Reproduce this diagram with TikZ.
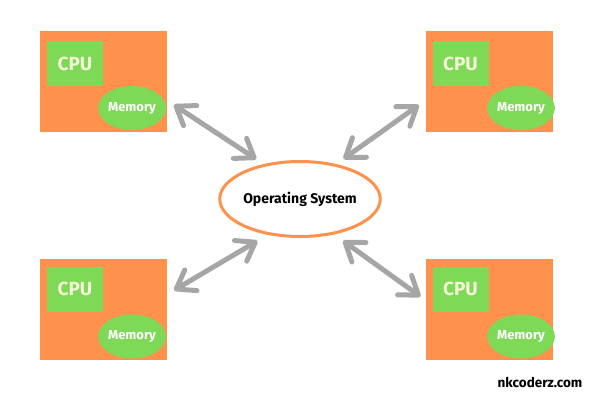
\documentclass[tikz,border=0pt]{standalone}
\usepackage{fontspec}
\setmainfont{Fira Sans}
\usetikzlibrary{arrows.meta,shapes.geometric}
\definecolor{boxorange}{RGB}{255,145,77}
\definecolor{chipgreen}{RGB}{126,217,87}
\definecolor{arrowgray}{RGB}{166,166,166}
\definecolor{cputext}{RGB}{245,245,215}
\tikzset{
    BX/.style ={rectangle, fill=boxorange, minimum width=127pt, minimum height=101pt, inner sep=0pt},
    CP/.style ={rectangle, fill=chipgreen, minimum width=56pt, minimum height=45pt, inner sep=0pt, text=cputext, font=\bfseries\fontsize{19}{19}\selectfont},
    ME/.style ={ellipse, fill=chipgreen, minimum width=66pt, minimum height=44pt, inner sep=0pt, text=white, font=\bfseries\fontsize{13}{13}\selectfont},
    OS/.style ={ellipse, draw=boxorange, line width=3pt, minimum width=159pt, minimum height=75pt, inner sep=0pt, font=\bfseries\fontsize{14}{14}\selectfont},
    AR/.style ={draw=arrowgray, line width=5pt, {Straight Barb[length=17pt,width=24pt,round]}-{Straight Barb[length=17pt,width=24pt,round]}}}
\begin{document}
\begin{tikzpicture}[x=1pt,y=-1pt]
        \useasboundingbox (0,0) rectangle (600,400);
        % computers
        \node[BX] (b1) at (103.5,81) {};
        \node[CP] (c1) at (75,63.5) {CPU};
        \node[ME] (m1) at (132,108) {Memory};
        \node[BX] (b2) at (489,81) {};
        \node[CP] (c2) at (460.5,63.5) {CPU};
        \node[ME] (m2) at (521,108) {Memory};
        \node[BX] (b3) at (103.5,309) {};
        \node[CP] (c3) at (75,289) {CPU};
        \node[ME] (m3) at (132,336.5) {Memory};
        \node[BX] (b4) at (489,309) {};
        \node[CP] (c4) at (460.5,289) {CPU};
        \node[ME] (m4) at (521,336.5) {Memory};
        % operating system
        \node[OS] (os) at (300,199) {Operating System};
        \draw[AR, shorten <=8pt, shorten >=9pt] (b1.-17) -- (os.136);
        \draw[AR, shorten <=8pt, shorten >=9pt] (b2.197) -- (os.44);
        \draw[AR, shorten <=8pt, shorten >=12pt] (b3.13) -- (os.228);
        \draw[AR, shorten <=6pt, shorten >=11pt] (b4.172) -- (os.-46);
        \node[font=\bfseries\fontsize{13.5}{13.5}\selectfont] (site) at (540,382) {nkcoderz.com};
    \end{tikzpicture}
\end{document}
